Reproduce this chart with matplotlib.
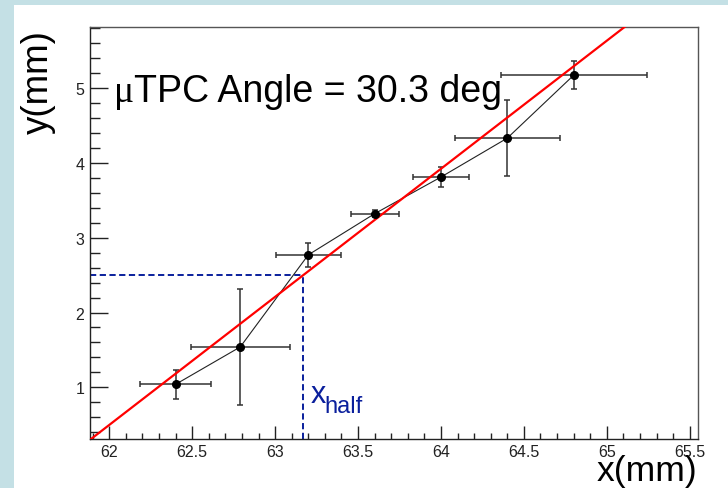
"""Recreate the uTPC angle fit plot (ROOT style)."""

import matplotlib
import numpy as np

matplotlib.use("Agg")
from matplotlib import pyplot as plt
from matplotlib.patches import Rectangle
from matplotlib.ticker import FuncFormatter, MultipleLocator

# ---------------------------------------------------------------------------
# Data
# ---------------------------------------------------------------------------

x_pos = [62.40, 62.79, 63.20, 63.60, 64.00, 64.40, 64.80]
y_pos = [1.04, 1.54, 2.77, 3.32, 3.81, 4.33, 5.17]
x_err = [0.215, 0.30, 0.195, 0.145, 0.17, 0.315, 0.44]
y_err = [0.19, 0.78, 0.165, 0.05, 0.13, 0.51, 0.19]

angle_deg = 30.3
x_half = 63.17
y_half = 2.5

x_limits = (61.884, 65.55)
y_limits = (0.31, 5.815)

W, H = 728, 489
plt.rcParams["font.family"] = ["Liberation Sans", "DejaVu Sans"]


def px(x, y):
    """Pixel position (from top-left) to figure fraction."""
    return x / W, 1 - y / H


fig = plt.figure(figsize=(W / 100, H / 100), dpi=100)
fig.patch.set_facecolor("#c4e0e5")
fig.patches.append(
    Rectangle(
        (14 / W, 0), 1, 1 - 6 / H,
        transform=fig.transFigure, facecolor="white", edgecolor="none", zorder=-1,
    )
)

ax = fig.add_axes([90 / W, 1 - 440 / H, 608 / W, 412 / H])
ax.set_xlim(*x_limits)
ax.set_ylim(*y_limits)

for side in ax.spines.values():
    side.set_color("#555555")
    side.set_linewidth(1.0)
ax.spines["left"].set_color("#222222")
ax.spines["bottom"].set_color("#222222")

ax.xaxis.set_major_locator(MultipleLocator(0.5))
ax.xaxis.set_minor_locator(MultipleLocator(0.1))
ax.yaxis.set_major_locator(MultipleLocator(1))
ax.yaxis.set_minor_locator(MultipleLocator(0.2))
fmt = FuncFormatter(lambda v, _: f"{v:g}")
ax.xaxis.set_major_formatter(fmt)
ax.yaxis.set_major_formatter(fmt)

ax.tick_params(axis="x", which="major", direction="in", length=9.5, width=1,
               labelsize=11.5, colors="#222222", pad=3.5)
ax.tick_params(axis="x", which="minor", direction="in", length=4.5, width=1,
               colors="#222222")
ax.tick_params(axis="y", which="major", direction="in", length=13, width=1,
               labelsize=11.5, colors="#222222", pad=4)
ax.tick_params(axis="y", which="minor", direction="in", length=7, width=1,
               colors="#222222")

# fit line: angle measured from the vertical
slope = 1 / np.tan(np.radians(angle_deg))
fit_x = np.array(x_limits)
fit_y = y_half + slope * (fit_x - x_half)
ax.plot(fit_x, fit_y, color="#ff0000", lw=1.6, zorder=3)

# x_half guide lines
blue = "#0a1f9c"
ax.plot([x_limits[0], x_half], [y_half, y_half], color=blue, lw=1.4,
        linestyle=(0, (3.2, 1.8)), zorder=2)
ax.plot([x_half, x_half], [y_limits[0], y_half], color=blue, lw=1.4,
        linestyle=(0, (3.2, 1.8)), zorder=2)

# data points
ax.plot(x_pos, y_pos, color="#222222", lw=0.8, zorder=2)
ax.errorbar(x_pos, y_pos, xerr=x_err, yerr=y_err, fmt="none",
            ecolor="#333333", elinewidth=1.1, capsize=2, capthick=1.1, zorder=2)
ax.plot(x_pos, y_pos, "o", color="black", markersize=5.5, zorder=4)

# texts
mu = fig.text(*px(114, 102), "\u03bc", fontsize=27, family="Liberation Serif",
              va="baseline", ha="left", color="black")
fig.canvas.draw()
mu_box = mu.get_window_extent()
fig.text(mu_box.x1 / W, 1 - 102 / H, f"TPC Angle = {angle_deg} deg",
         fontsize=27, va="baseline", ha="left", color="black")
fig.text(*px(311, 403), "x", fontsize=22, color=blue, va="baseline", ha="left")
fig.text(*px(324, 413), "half", fontsize=17, color=blue, va="baseline", ha="left")
fig.text(*px(697, 481), "x(mm)", fontsize=25.5, va="baseline", ha="right")
fig.text(*px(38, 30), "y(mm)", fontsize=26.5, rotation=90, va="top", ha="center")

fig.savefig("out.png", dpi=100, facecolor=fig.get_facecolor())
